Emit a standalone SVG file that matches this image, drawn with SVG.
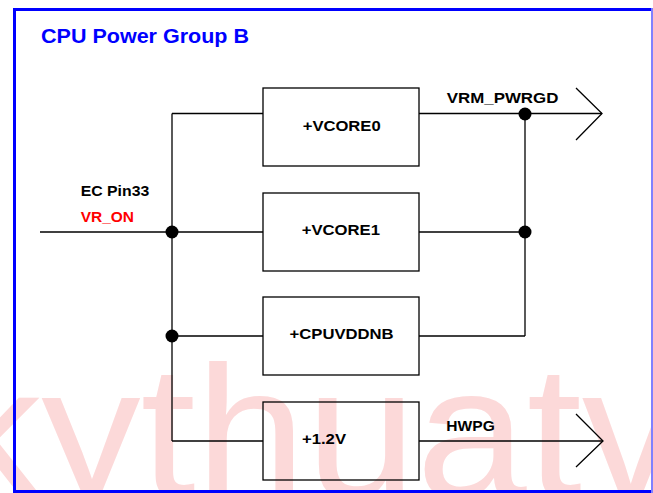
<svg xmlns="http://www.w3.org/2000/svg" width="653" height="493" viewBox="0 0 653 493">
<style>
.wire{fill:none;stroke:#000;stroke-width:1.3}
.box{fill:none;stroke:#000;stroke-width:1.3}
.dot{fill:#000}
.lbl{font-family:"Liberation Sans",Arial,sans-serif;font-weight:bold;font-size:15px;fill:#000}
.wm{font-family:"Liberation Sans",Arial,sans-serif;font-size:188px;fill:#fcd9d9}
</style>
<rect width="653" height="493" fill="#fff"/>
<g id="watermark">
<text class="wm" x="-58" y="497" textLength="739" lengthAdjust="spacingAndGlyphs">kythuatv</text>
</g>
<g id="frame">
<path d="M652 9.5 H14.5 V491.5 H653" fill="none" stroke="#0000ff" stroke-width="3"/>
<line x1="652" y1="8" x2="652" y2="493" stroke="#8080ff" stroke-width="2"/>
<text x="41" y="42.5" font-family="Liberation Sans,Arial,sans-serif" font-weight="bold" font-size="20" fill="#0000ff" textLength="208" lengthAdjust="spacingAndGlyphs">CPU Power Group B</text>
</g>
<g id="connectors">
<line class="wire" x1="40" y1="232" x2="263" y2="232"/>
<line class="wire" x1="172" y1="113.5" x2="172" y2="441"/>
<line class="wire" x1="172" y1="113.5" x2="263" y2="113.5"/>
<line class="wire" x1="172" y1="336" x2="263" y2="336"/>
<line class="wire" x1="172" y1="441" x2="263" y2="441"/>
<line class="wire" x1="419" y1="113.5" x2="602" y2="113.5"/>
<polyline class="wire" points="576,88 602,113.5 576,140"/>
<line class="wire" x1="419" y1="232" x2="525" y2="232"/>
<line class="wire" x1="419" y1="336" x2="525" y2="336"/>
<line class="wire" x1="525" y1="113.5" x2="525" y2="336" stroke="#333"/>
<line class="wire" x1="419" y1="441" x2="603" y2="441"/>
<polyline class="wire" points="576,414 603,441 576,467"/>
<circle class="dot" cx="172" cy="232" r="6.5"/>
<circle class="dot" cx="172" cy="336" r="6.5"/>
<circle class="dot" cx="525" cy="114" r="6.5"/>
<circle class="dot" cx="525" cy="232" r="6.5"/>
<text class="lbl" x="80.7" y="196" font-size="16" textLength="68.6" lengthAdjust="spacingAndGlyphs">EC Pin33</text>
<text class="lbl" x="80.7" y="221.7" font-size="16" fill="#ff0000" style="fill:#ff0000" textLength="53.3" lengthAdjust="spacingAndGlyphs">VR_ON</text>
<text class="lbl" x="446.7" y="103.3" textLength="111.7" lengthAdjust="spacingAndGlyphs">VRM_PWRGD</text>
<text class="lbl" x="446.3" y="431" textLength="48.5" lengthAdjust="spacingAndGlyphs">HWPG</text>
</g>
<g id="vcore0">
<rect class="box" x="263" y="88" width="156" height="78"/>
<text class="lbl" x="302.7" y="130.5" textLength="78" lengthAdjust="spacingAndGlyphs">+VCORE0</text>
</g>
<g id="vcore1">
<rect class="box" x="263" y="193" width="156" height="78"/>
<text class="lbl" x="301.7" y="235" textLength="78.3" lengthAdjust="spacingAndGlyphs">+VCORE1</text>
</g>
<g id="cpuvddnb">
<rect class="box" x="263" y="297" width="156" height="78"/>
<text class="lbl" x="289.6" y="339.3" textLength="104" lengthAdjust="spacingAndGlyphs">+CPUVDDNB</text>
</g>
<g id="v12">
<rect class="box" x="263" y="402" width="156" height="78"/>
<text class="lbl" x="302" y="444" textLength="44" lengthAdjust="spacingAndGlyphs">+1.2V</text>
</g>
</svg>
